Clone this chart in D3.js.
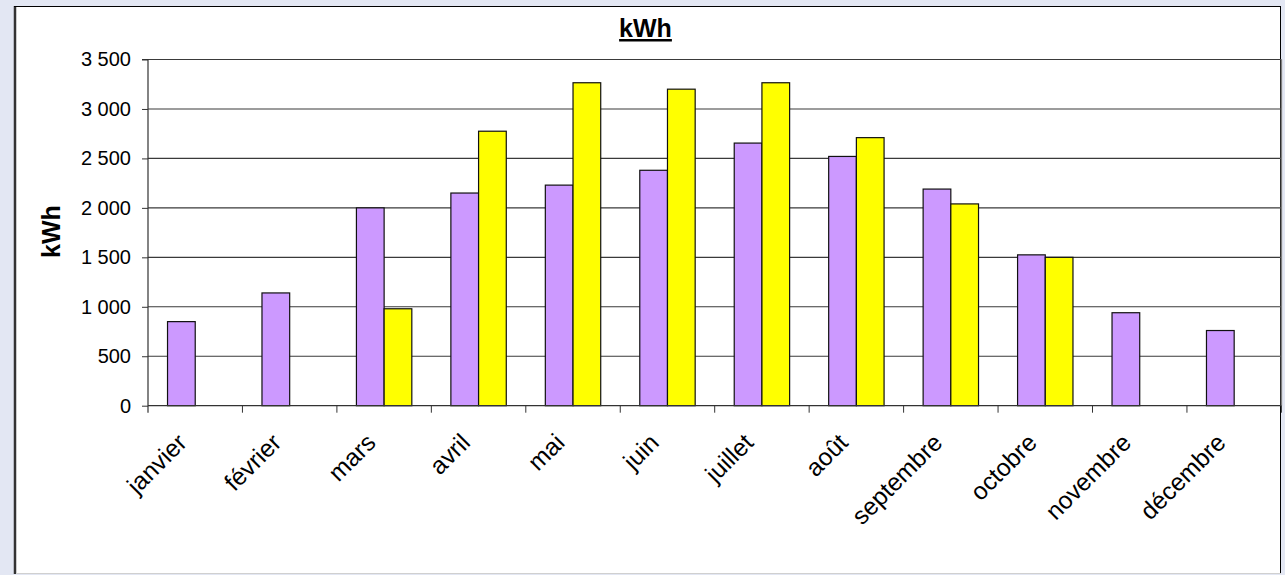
<!DOCTYPE html>
<html>
<head>
<meta charset="utf-8">
<script src="https://cdn.jsdelivr.net/npm/d3@7"></script>
<style>
  html, body { margin: 0; padding: 0; background: #e3e7f3; }
  svg { display: block; font-family: Arial, "Liberation Sans", sans-serif; }
</style>
</head>
<body>
<svg id="chart" width="1285" height="575"></svg>
<script>
// Monthly production (kWh), two series compared month by month
const months = ["janvier", "février", "mars", "avril", "mai", "juin",
                "juillet", "août", "septembre", "octobre", "novembre", "décembre"];
const seriesKeys = ["s1", "s2"];
const seriesPurple = [850, 1140, 2000, 2150, 2230, 2380, 2655, 2520, 2190, 1525, 940, 760];
const seriesYellow = [null, null, 980, 2775, 3265, 3200, 3265, 2710, 2040, 1500, null, null];
const yTicks = [0, 500, 1000, 1500, 2000, 2500, 3000, 3500];
const seriesColors = ["#cc99ff", "#ffff00"];

const svg = d3.select("#chart");

// chart frame
svg.append("rect")
  .attr("x", 15).attr("y", 6.5)
  .attr("width", 1265.5).attr("height", 567)
  .attr("fill", "#ffffff");
svg.append("line").attr("x1", 15).attr("x2", 15).attr("y1", 6).attr("y2", 574)
  .attr("stroke", "#333").attr("stroke-width", 2.5);
svg.append("line").attr("x1", 14).attr("x2", 1281).attr("y1", 6.5).attr("y2", 6.5)
  .attr("stroke", "#000").attr("stroke-width", 1.2);
svg.append("line").attr("x1", 1280.5).attr("x2", 1280.5).attr("y1", 6).attr("y2", 574)
  .attr("stroke", "#000").attr("stroke-width", 1);
svg.append("line").attr("x1", 16).attr("x2", 1281).attr("y1", 573.5).attr("y2", 573.5)
  .attr("stroke", "#d0d0d0").attr("stroke-width", 1);

const plot = { left: 148, right: 1281.4, top: 59.5, bottom: 405.7 };

const y = d3.scaleLinear().domain([0, 3500]).range([plot.bottom, plot.top]);
const x0 = d3.scaleBand().domain(months).range([plot.left, plot.right])
  .paddingInner(0).paddingOuter(0);
const x1 = d3.scaleBand().domain(seriesKeys).range([0, x0.bandwidth()])
  .paddingInner(0).paddingOuter(0.705);

// gridlines
svg.append("g").selectAll("line").data(yTicks.filter(d => d > 0)).join("line")
  .attr("x1", plot.left).attr("x2", plot.right)
  .attr("y1", d => y(d)).attr("y2", d => y(d))
  .attr("stroke", "#3a3a3a").attr("stroke-width", 1.1);

// plot area right border
svg.append("line").attr("x1", plot.right).attr("x2", plot.right)
  .attr("y1", plot.top).attr("y2", plot.bottom)
  .attr("stroke", "#808080").attr("stroke-width", 1.5);

// bars
const rows = months.map((m, i) => ({ month: m, values: [seriesPurple[i], seriesYellow[i]] }));
const groups = svg.append("g").selectAll("g").data(rows).join("g")
  .attr("transform", d => `translate(${x0(d.month)},0)`);
groups.selectAll("rect")
  .data(d => d.values.map((v, k) => ({ key: seriesKeys[k], value: v, k })).filter(e => e.value != null))
  .join("rect")
  .attr("x", d => x1(d.key))
  .attr("width", x1.bandwidth())
  .attr("y", d => y(d.value))
  .attr("height", d => y(0) - y(d.value))
  .attr("fill", d => seriesColors[d.k])
  .attr("stroke", "#111")
  .attr("stroke-width", 1.2);

// y axis
const yAxis = d3.axisLeft(y).tickValues(yTicks).tickSize(6).tickPadding(11)
  .tickFormat(d => d3.format(",")(d).replace(",", " "));
const gy = svg.append("g").attr("transform", `translate(${plot.left},0)`).call(yAxis);
gy.select(".domain").attr("stroke", "#333").attr("stroke-width", 1.2)
  .attr("d", `M-6,${plot.top}H0V${plot.bottom + 7}`);
gy.selectAll(".tick line").attr("stroke", "#333");
gy.selectAll(".tick text").attr("font-size", 20).attr("fill", "#000")
  .attr("font-family", "Arial, 'Liberation Sans', sans-serif");

// x axis: ticks at category boundaries
const gx = svg.append("g").attr("transform", `translate(0,${plot.bottom})`);
gx.append("line").attr("x1", plot.left).attr("x2", plot.right).attr("y1", 0).attr("y2", 0)
  .attr("stroke", "#333").attr("stroke-width", 1.3);
gx.selectAll("line.tk").data(months).join("line").attr("class", "tk")
  .attr("x1", d => x0(d) + x0.bandwidth()).attr("x2", d => x0(d) + x0.bandwidth())
  .attr("y1", 0).attr("y2", 7).attr("stroke", "#333");
gx.selectAll("text").data(months).join("text")
  .attr("transform", d => `translate(${x0(d) + x0.bandwidth() / 2 - 7},38.5) rotate(-45)`)
  .attr("text-anchor", "end")
  .attr("font-size", 24.5)
  .attr("fill", "#000")
  .text(d => d);

// y axis title
svg.append("text")
  .attr("transform", "translate(60,231.5) rotate(-90)")
  .attr("text-anchor", "middle")
  .attr("font-size", 25).attr("font-weight", "bold")
  .text("kWh");

// chart title
svg.append("text")
  .attr("x", 645.5).attr("y", 37)
  .attr("text-anchor", "middle")
  .attr("font-size", 25).attr("font-weight", "bold")
  .style("text-decoration", "underline")
  .text("kWh");
</script>
</body>
</html>
